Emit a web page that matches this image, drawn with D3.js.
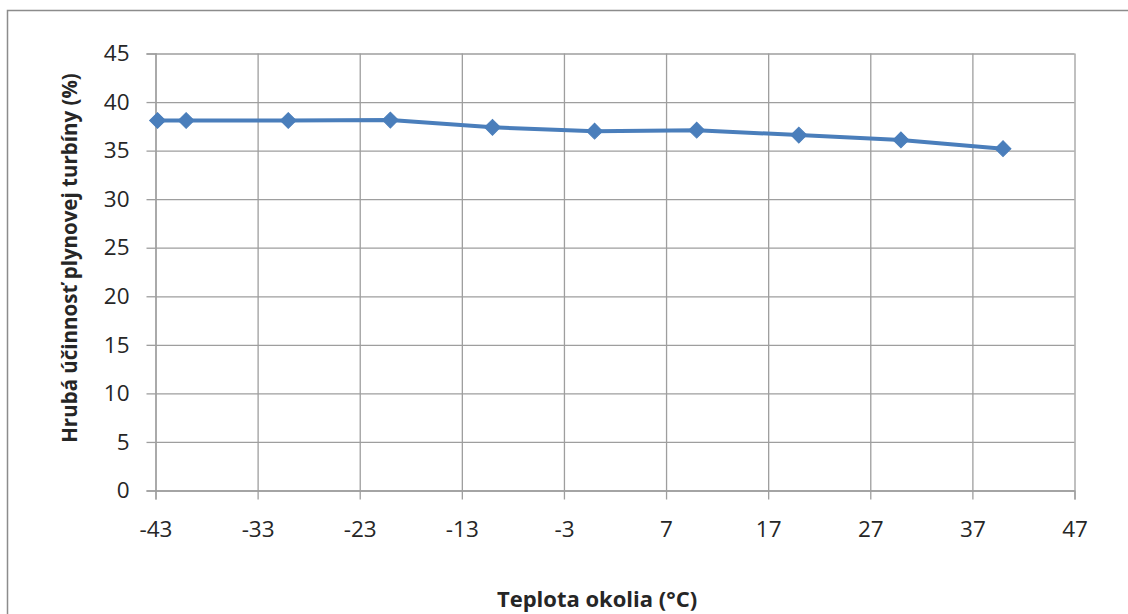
<!DOCTYPE html>
<html>
<head>
<meta charset="utf-8">
<script src="https://cdn.jsdelivr.net/npm/d3@7"></script>
<style>
  html, body { margin: 0; padding: 0; background: #fff; }
  svg { display: block; }
  text { font-family: "Open Sans", sans-serif; fill: #262626; }
</style>
</head>
<body>
<svg id="chart" width="1128" height="614"></svg>
<script>
// Ambient temperature (°C) and gross gas-turbine efficiency (%)
const temperatures = [-42.8, -40, -30, -20, -10, 0, 10, 20, 30, 40];
const efficiency   = [38.1, 38.1, 38.1, 38.15, 37.4, 37.0, 37.1, 36.6, 36.1, 35.2];

const xTicks = [-43, -33, -23, -13, -3, 7, 17, 27, 37, 47];
const yTicks = [0, 5, 10, 15, 20, 25, 30, 35, 40, 45];

const xTitle = "Teplota okolia (°C)";
const yTitle = "Hrubá účinnosť plynovej turbíny (%)";

const svg = d3.select("#chart");
const W = 1128, H = 614;
const plot = { left: 155.5, right: 1074.5, top: 53.5, bottom: 490.5 };

// chart area frame
svg.append("rect")
  .attr("x", 7.5).attr("y", 10.5)
  .attr("width", W + 10).attr("height", H + 10)
  .attr("fill", "#fff")
  .attr("stroke", "#8c8c8c").attr("stroke-width", 1.5);

const x = d3.scaleLinear().domain([-43, 47]).range([plot.left, plot.right]);
const y = d3.scaleLinear().domain([0, 45]).range([plot.bottom, plot.top]);

const gridColor = "#9e9e9e";
const fmt = d => String(d);   // plain hyphen-minus, as in the spreadsheet labels

// horizontal gridlines with outside tick marks
const yAxis = svg.append("g")
  .attr("transform", `translate(${plot.left},0)`)
  .call(d3.axisLeft(y).tickValues(yTicks).tickSize(9).tickPadding(17).tickFormat(fmt));
yAxis.select(".domain").attr("stroke", gridColor).attr("stroke-width", 1.3);
yAxis.selectAll(".tick line").attr("stroke", gridColor).attr("stroke-width", 1.3);
yAxis.selectAll(".tick text").style("font-size", "22.5px")
  .style("font-family", "'Open Sans', sans-serif").attr("fill", "#262626");
yAxis.selectAll(".tick").append("line")
  .attr("x1", 0).attr("x2", plot.right - plot.left)
  .attr("stroke", gridColor).attr("stroke-width", 1.3);

// vertical gridlines with outside tick marks
const xAxis = svg.append("g")
  .attr("transform", `translate(0,${plot.bottom})`)
  .call(d3.axisBottom(x).tickValues(xTicks).tickSize(9).tickPadding(22).tickFormat(fmt));
xAxis.select(".domain").attr("stroke", gridColor).attr("stroke-width", 1.3);
xAxis.selectAll(".tick line").attr("stroke", gridColor).attr("stroke-width", 1.3);
xAxis.selectAll(".tick text").style("font-size", "22.5px")
  .style("font-family", "'Open Sans', sans-serif").attr("fill", "#262626");
xAxis.selectAll(".tick").append("line")
  .attr("y1", 0).attr("y2", -(plot.bottom - plot.top))
  .attr("stroke", gridColor).attr("stroke-width", 1.3);

// axis titles
svg.append("text")
  .attr("x", 597).attr("y", 607)
  .attr("text-anchor", "middle")
  .style("font-size", "22px").style("font-weight", "bold")
  .text(xTitle);

svg.append("text")
  .attr("transform", `translate(77,258) rotate(-90)`)
  .attr("text-anchor", "middle")
  .style("font-size", "20.5px").style("font-weight", "bold")
  .text(yTitle);

// series line
const data = temperatures.map((t, i) => ({ t, e: efficiency[i] }));
const seriesColor = "#4a7ebb";

svg.append("path")
  .datum(data)
  .attr("fill", "none")
  .attr("stroke", seriesColor)
  .attr("stroke-width", 4)
  .attr("stroke-linejoin", "round")
  .attr("d", d3.line().x(d => x(d.t)).y(d => y(d.e)));

// diamond markers
const diamond = d3.symbol().type(d3.symbolSquare).size(125);
svg.append("g").selectAll("path")
  .data(data)
  .join("path")
  .attr("d", diamond)
  .attr("transform", d => `translate(${x(d.t)},${y(d.e)}) rotate(45)`)
  .attr("fill", seriesColor)
  .attr("stroke", seriesColor)
  .attr("stroke-width", 1);
</script>
</body>
</html>
